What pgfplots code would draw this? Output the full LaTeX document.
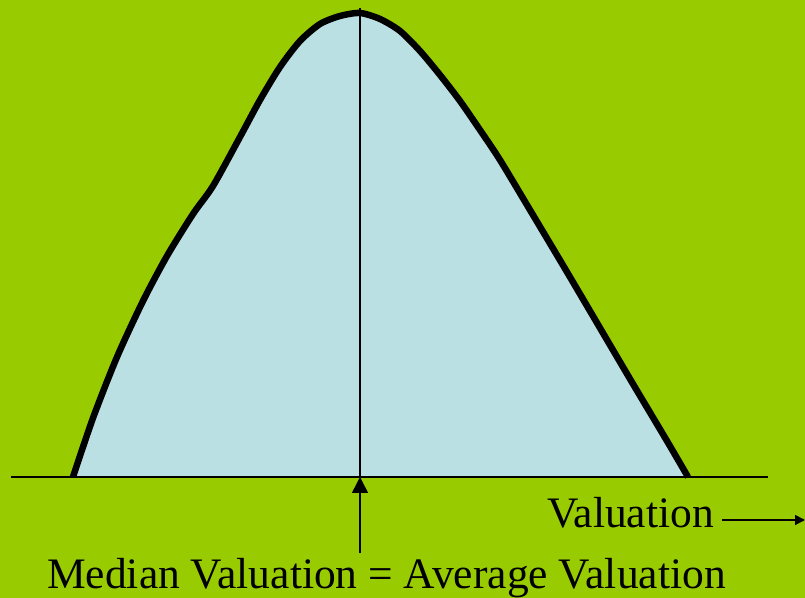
\documentclass[border=0pt]{standalone}
\usepackage{pgfplots}
\pgfplotsset{compat=1.18}
\usetikzlibrary{arrows.meta}
\usepackage{fontspec}
\setmainfont{Liberation Serif}
\definecolor{bggreen}{HTML}{99CC00}
\definecolor{fillblue}{HTML}{BBE0E3}
\pgfplotstableread{
x y
73 0
93 59
117 120
143 176
167 221
193 263
213 291
240 340
260 377
280 410
300 436
320 453
340 461
360 464
380 458
400 446
420 426
440 402
460 376
480 347
500 317
533 262
567 205
600 149
633 93
667 36
688 0
}\curve
\begin{document}
\begin{tikzpicture}
\begin{axis}[
  scale only axis, width=805bp, height=598bp,
  xmin=0, xmax=805, ymin=-121, ymax=477,
  axis lines=none, ticks=none,
  axis background/.style={fill=bggreen},
  clip=true,
]
\addplot[fill=fillblue, draw=none, smooth, tension=0.45] table[x=x,y=y] {\curve} \closedcycle;
\addplot[black, line width=1.5bp] coordinates {(11,0) (768,0)};
\addplot[black, line width=6.5bp, smooth, tension=0.45] table[x=x,y=y] {\curve};
\addplot[black, line width=1.5bp] coordinates {(360,0) (360,469)};
\addplot[black, line width=1.5bp, -{Triangle[length=16bp,width=16bp]}] coordinates {(360,-76) (360,0)};
\addplot[black, line width=1.5bp, -{Triangle[length=10bp,width=10bp]}] coordinates {(722,-43) (805,-43)};
\node[anchor=base west, inner sep=0pt, font=\fontsize{43.5bp}{50bp}\selectfont] at (axis cs:547,-51) {Valuation};
\node[anchor=base west, inner sep=0pt, font=\fontsize{43.5bp}{50bp}\selectfont] at (axis cs:47,-111) {Median Valuation = Average Valuation};
\end{axis}
\end{tikzpicture}
\end{document}
